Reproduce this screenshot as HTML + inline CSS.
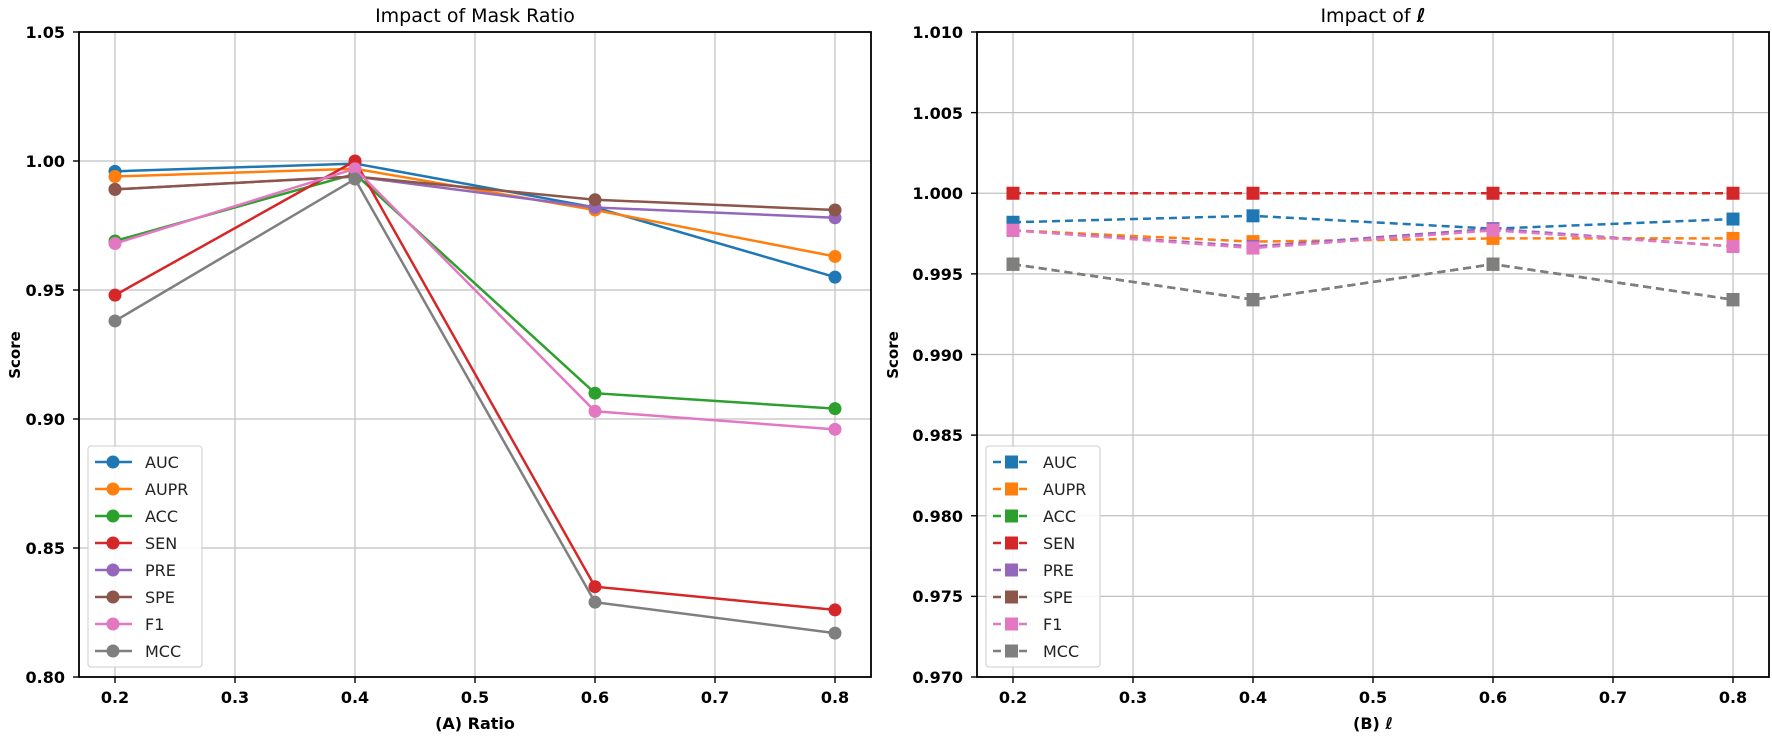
<!DOCTYPE html>
<html><head><meta charset="utf-8"><style>
html,body{margin:0;padding:0;background:#fff;}
svg{display:block;font-family:"DejaVu Sans","Liberation Sans",sans-serif;}
.t{font-size:16px;fill:#222;}
.tk{font-size:16px;fill:#000;font-weight:bold;}
</style></head><body>
<svg id="s" width="1772" height="736" xmlns="http://www.w3.org/2000/svg">
<rect width="1772" height="736" fill="#fff"/>
<g id="grid"></g>
<g id="series"></g>
<rect x="79" y="32" width="792" height="645" fill="none" stroke="#000" stroke-width="1.8"/>
<rect x="977" y="32" width="792" height="645" fill="none" stroke="#000" stroke-width="1.8"/>
<g id="ticks"></g>
<text x="475" y="22" text-anchor="middle" style="font-size:19px">Impact of Mask Ratio</text>
<text x="1373" y="22" text-anchor="middle" style="font-size:19px">Impact of <tspan font-style="italic" font-weight="bold">ℓ</tspan></text>
<text x="475" y="729" text-anchor="middle" class="tk">(A) Ratio</text>
<text x="1373" y="729" text-anchor="middle" class="tk">(B) <tspan font-style="italic">ℓ</tspan></text>
<text transform="translate(20,355) rotate(-90)" text-anchor="middle" class="tk" style="font-size:15px">Score</text>
<text transform="translate(898,355) rotate(-90)" text-anchor="middle" class="tk" style="font-size:15px">Score</text>
<g class="tk" text-anchor="end">
<text x="65" y="38">1.05</text><text x="65" y="167">1.00</text><text x="65" y="296">0.95</text>
<text x="65" y="425">0.90</text><text x="65" y="554">0.85</text><text x="65" y="683">0.80</text>
</g>
<g class="tk" text-anchor="middle">
<text x="115" y="703">0.2</text><text x="235" y="703">0.3</text><text x="355" y="703">0.4</text>
<text x="475" y="703">0.5</text><text x="595" y="703">0.6</text><text x="715" y="703">0.7</text><text x="835" y="703">0.8</text>
<text x="1013" y="703">0.2</text><text x="1133" y="703">0.3</text><text x="1253" y="703">0.4</text>
<text x="1373" y="703">0.5</text><text x="1493" y="703">0.6</text><text x="1613" y="703">0.7</text><text x="1733" y="703">0.8</text>
</g>
<g class="tk" text-anchor="end">
<text x="963" y="38">1.010</text><text x="963" y="119">1.005</text><text x="963" y="199">1.000</text>
<text x="963" y="280">0.995</text><text x="963" y="361">0.990</text><text x="963" y="441">0.985</text>
<text x="963" y="522">0.980</text><text x="963" y="602">0.975</text><text x="963" y="683">0.970</text>
</g>
<rect x="88" y="446" width="114" height="221" rx="3" fill="#fff" fill-opacity="0.85" stroke="#ccc"/>
<rect x="986" y="446" width="114" height="221" rx="3" fill="#fff" fill-opacity="0.85" stroke="#ccc"/>
<g id="leg"></g>
<g class="t">
<text x="145" y="468">AUC</text><text x="145" y="495">AUPR</text><text x="145" y="522">ACC</text><text x="145" y="549">SEN</text>
<text x="145" y="576">PRE</text><text x="145" y="603">SPE</text><text x="145" y="630">F1</text><text x="145" y="657">MCC</text>
<text x="1043" y="468">AUC</text><text x="1043" y="495">AUPR</text><text x="1043" y="522">ACC</text><text x="1043" y="549">SEN</text>
<text x="1043" y="576">PRE</text><text x="1043" y="603">SPE</text><text x="1043" y="630">F1</text><text x="1043" y="657">MCC</text>
</g>
</svg>
<script>
const NS="http://www.w3.org/2000/svg";
function el(p,n,a){const e=document.createElementNS(NS,n);for(const k in a)e.setAttribute(k,a[k]);document.getElementById(p).appendChild(e);return e;}
const C=["#1f77b4","#ff7f0e","#2ca02c","#d62728","#9467bd","#8c564b","#e377c2","#7f7f7f"];
const xs=[0.2,0.4,0.6,0.8];
const L=[[0.996,0.999,0.982,0.955],[0.994,0.997,0.981,0.963],[0.969,0.995,0.910,0.904],[0.948,1.000,0.835,0.826],
[0.989,0.994,0.982,0.978],[0.989,0.994,0.985,0.981],[0.968,0.997,0.903,0.896],[0.938,0.993,0.829,0.817]];
const R=[[0.9982,0.9986,0.9978,0.9984],[0.9977,0.9970,0.9972,0.9972],[0.9956,0.9934,0.9956,0.9934],[1,1,1,1],
[0.9977,0.9967,0.9978,0.9967],[0.9956,0.9934,0.9956,0.9934],[0.9977,0.9966,0.9977,0.9967],[0.9956,0.9934,0.9956,0.9934]];
const LX=v=>115+(v-0.2)*1200, LY=v=>32+(1.05-v)*2580;
const RX=v=>1013+(v-0.2)*1200, RY=v=>32+(1.010-v)*16125;
for(let i=2;i<=8;i++){const v=i/10;
 el("grid","line",{x1:LX(v),x2:LX(v),y1:32,y2:677,stroke:"#c0c0c0","stroke-width":1.2});
 el("grid","line",{x1:RX(v),x2:RX(v),y1:32,y2:677,stroke:"#c0c0c0","stroke-width":1.2});
 el("ticks","line",{x1:LX(v),x2:LX(v),y1:677,y2:683,stroke:"#000","stroke-width":1.4});
 el("ticks","line",{x1:RX(v),x2:RX(v),y1:677,y2:683,stroke:"#000","stroke-width":1.4});}
for(let i=0;i<6;i++){const y=LY(0.8+i*0.05);
 el("grid","line",{x1:79,x2:871,y1:y,y2:y,stroke:"#c0c0c0","stroke-width":1.2});
 el("ticks","line",{x1:73,x2:79,y1:y,y2:y,stroke:"#000","stroke-width":1.4});}
for(let i=0;i<9;i++){const y=RY(0.970+i*0.005);
 el("grid","line",{x1:977,x2:1769,y1:y,y2:y,stroke:"#c0c0c0","stroke-width":1.2});
 el("ticks","line",{x1:971,x2:977,y1:y,y2:y,stroke:"#000","stroke-width":1.4});}
for(let s=0;s<8;s++){
 el("series","polyline",{points:xs.map((x,i)=>LX(x)+","+LY(L[s][i])).join(" "),fill:"none",stroke:C[s],"stroke-width":2.5});
 xs.forEach((x,i)=>el("series","circle",{cx:LX(x),cy:LY(L[s][i]),r:6.5,fill:C[s]}));
 el("series","polyline",{points:xs.map((x,i)=>RX(x)+","+RY(R[s][i])).join(" "),fill:"none",stroke:C[s],"stroke-width":2.5,"stroke-dasharray":"8,5"});
 xs.forEach((x,i)=>el("series","rect",{x:RX(x)-6.5,y:RY(R[s][i])-6.5,width:13,height:13,fill:C[s]}));
 const y=462+s*27;
 el("leg","line",{x1:95,x2:132,y1:y,y2:y,stroke:C[s],"stroke-width":2.5});
 el("leg","circle",{cx:113,cy:y,r:6.5,fill:C[s]});
 el("leg","line",{x1:993,x2:1030,y1:y,y2:y,stroke:C[s],"stroke-width":2.5,"stroke-dasharray":"8,5"});
 el("leg","rect",{x:1005,y:y-6.5,width:13,height:13,fill:C[s]});
}
</script>
</body></html>
